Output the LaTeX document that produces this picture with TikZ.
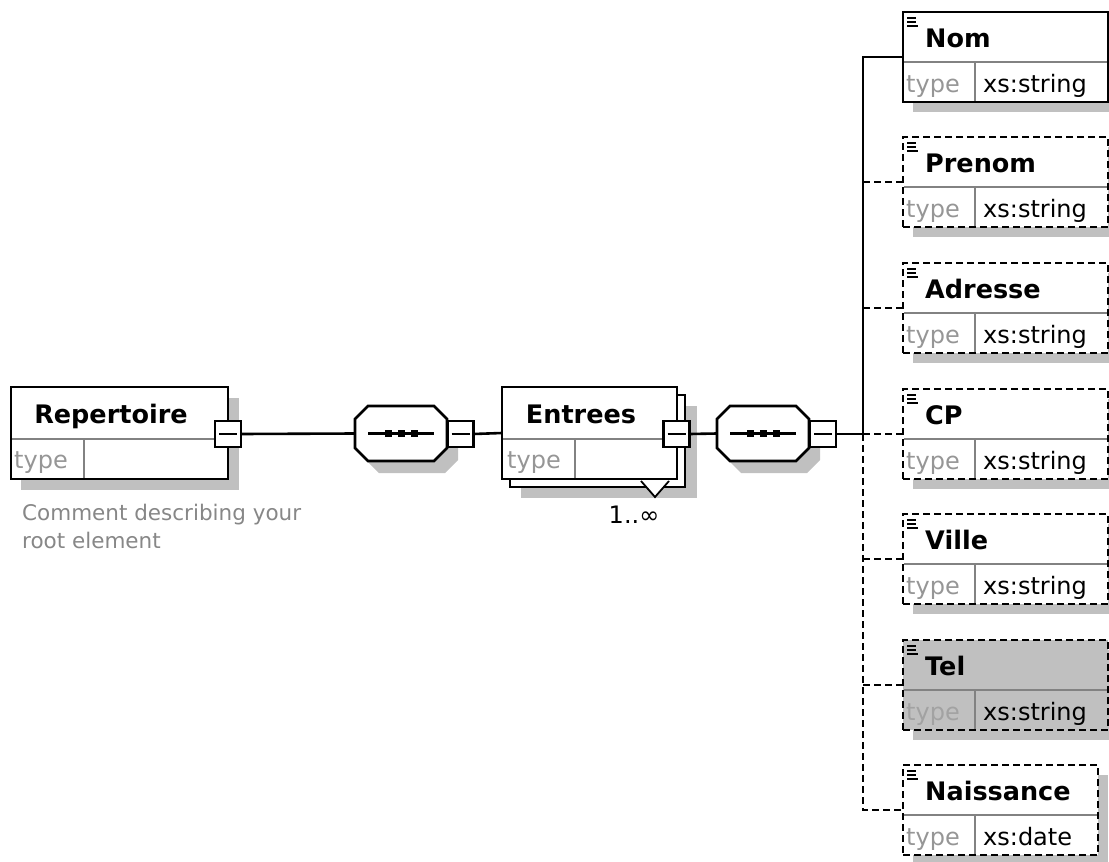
\documentclass[tikz,border=0pt]{standalone}
\usepackage{fontspec}
\setmainfont{DejaVu Sans}
\usetikzlibrary{calc}
\definecolor{shadowc}{RGB}{192,192,192}
\definecolor{typec}{RGB}{150,150,150}
\definecolor{typetel}{RGB}{162,162,162}
\definecolor{divc}{RGB}{130,130,130}
\definecolor{commc}{RGB}{135,135,135}
\tikzset{
 bx/.style={draw=black, line width=2.6pt, fill=white, inner sep=0pt, outer sep=0pt},
 dsh/.style={dash pattern=on 7pt off 4pt},
 conn/.style={line width=2.6pt, draw=black},
 hdr/.style={font=\fontsize{25.5}{30}\selectfont\bfseries, inner sep=0pt},
 typ/.style={font=\fontsize{24}{28}\selectfont, text=typec, inner sep=0pt},
 val/.style={font=\fontsize{24}{28}\selectfont, inner sep=0pt},
 comm/.style={font=\fontsize{21.5}{26}\selectfont, text=commc, inner sep=0pt},
 sq/.style={draw, line width=2.6pt, fill=white, minimum size=26pt, inner sep=0pt, outer sep=0pt,
   path picture={\draw[line width=2.6pt] ([xshift=4pt]path picture bounding box.west) -- ([xshift=-4pt]path picture bounding box.east);}},
 seqbox/.style={rectangle, draw=none, minimum width=92pt, minimum height=55pt, inner sep=0pt, outer sep=0pt},
}
\newcommand{\octpath}[2]{% node name, shift
 ([shift={(#2)}]$(#1.north west)+(13,0)$) -- ([shift={(#2)}]$(#1.north east)+(-13,0)$) --
 ([shift={(#2)}]$(#1.north east)+(0,13)$) -- ([shift={(#2)}]$(#1.south east)+(0,-13)$) --
 ([shift={(#2)}]$(#1.south east)+(-13,0)$) -- ([shift={(#2)}]$(#1.south west)+(13,0)$) --
 ([shift={(#2)}]$(#1.south west)+(0,-13)$) -- ([shift={(#2)}]$(#1.north west)+(0,13)$) -- cycle}
\newcommand{\xelem}[8]{%
 \fill[shadowc] (#2+10,#3+90) rectangle (#4+10,#3+100);
 \fill[shadowc] (#4,#3+10) rectangle (#4+10,#3+100);
 \node[bx,#7,anchor=north west,minimum width={#4-#2},minimum height=90pt] (#1) at (#2,#3) {};
 \draw[divc,line width=1.3pt] (#2+1,#3+50) -- (#4-1,#3+50);
 \draw[divc,line width=1.3pt] (#2+72,#3+50) -- (#2+72,#3+89);
 \draw[line width=1.5pt] (#2+4,#3+6) -- (#2+13,#3+6) (#2+4,#3+10) -- (#2+13,#3+10) (#2+4,#3+14) -- (#2+15,#3+14);
 \node[hdr,anchor=base west] (#1-l) at (#2+22,#3+35) {#5};
 \node[typ,text=#8,anchor=base west] (#1-t) at (#2+3,#3+80) {type};
 \node[val,anchor=base west] (#1-v) at (#2+80,#3+80) {#6};
}
\newcommand{\seqdraw}[1]{%
 \fill[shadowc] \octpath{#1}{11,12};
 \filldraw[fill=white,line width=2.6pt] \octpath{#1}{0,0};
 \draw[line width=2.6pt] ([xshift=-33pt]#1.center) -- ([xshift=33pt]#1.center);
 \foreach \dx in {-13,0,13} \fill ([shift={(\dx-3.5,-3.5)}]#1.center) rectangle ([shift={(\dx+3.5,3.5)}]#1.center);
}
\begin{document}
\begin{tikzpicture}[x=1pt,y=-1pt]
\useasboundingbox[fill=white] (0,0) rectangle (1109,862);

% ---- Repertoire
\fill[shadowc] (21,398) rectangle (239,490);
\node[bx,anchor=north west,minimum width=217pt,minimum height=92pt] (rep) at (11,387) {};
\draw[divc,line width=1.3pt] (12,439) -- (227,439);
\draw[divc,line width=1.3pt] (84,439) -- (84,478);
\node[hdr,anchor=base] (rep-l) at (111,423) {Repertoire};
\node[typ,anchor=base west] (rep-t) at (14,468) {type};
\node[sq] (repsq) at (228,434) {};
\node[comm,anchor=base west] (c1) at (22,520) {Comment describing your};
\node[comm,anchor=base west] (c2) at (22,548) {root element};

% ---- sequence 1
\node[seqbox] (seq1) at (401,433.5) {};
\seqdraw{seq1}
\node[sq] (seq1sq) at (460.5,434) {};

% ---- Entrees
\fill[shadowc] (521,406) rectangle (697,498);
\draw[line width=2.6pt,fill=white] (510,395) rectangle (685,487);
\filldraw[line width=1.8pt,fill=white] (641,481) -- (655,497) -- (669,481);
\node[bx,anchor=north west,minimum width=175pt,minimum height=92pt] (entrees) at (502,387) {};
\draw[divc,line width=1.3pt] (503,439) -- (676,439);
\draw[divc,line width=1.3pt] (575,439) -- (575,478);
\node[hdr,anchor=base] (ent-l) at (581,423) {Entrees};
\node[typ,anchor=base west] (ent-t) at (507,468) {type};
\node[sq] (entsq) at (676.5,434) {};
\node[val,anchor=base] (card) at (634,523) {1..∞};

% ---- sequence 2
\node[seqbox] (seq2) at (763,433.5) {};
\seqdraw{seq2}
\node[sq] (seq2sq) at (823,434) {};

% ---- children
\xelem{nom}{903}{12}{1108}{Nom}{xs:string}{}{typec}
\xelem{prenom}{903}{137}{1108}{Prenom}{xs:string}{dsh}{typec}
\xelem{adresse}{903}{263}{1108}{Adresse}{xs:string}{dsh}{typec}
\xelem{cp}{903}{389}{1108}{CP}{xs:string}{dsh}{typec}
\xelem{ville}{903}{514}{1108}{Ville}{xs:string}{dsh}{typec}
\xelem{tel}{903}{640}{1108}{Tel}{xs:string}{dsh,fill=shadowc}{typetel}
\xelem{naissance}{903}{765}{1098}{Naissance}{xs:date}{dsh}{typec}

% ---- connectors
\coordinate (bus) at (863,434);
\draw[conn] (repsq.east) -- (seq1.west);
\draw[conn] (seq1sq.east) -- (entrees.west);
\draw[conn] (entsq.east) -- (seq2.west);
\draw[conn] (seq2sq.east) -- (bus);
\draw[conn,dsh] (bus) |- (naissance.west);
\draw[conn,dsh] (bus) -- (cp.west);
\draw[conn,dsh] (prenom.west -| bus) -- (prenom.west);
\draw[conn,dsh] (adresse.west -| bus) -- (adresse.west);
\draw[conn,dsh] (ville.west -| bus) -- (ville.west);
\draw[conn,dsh] (tel.west -| bus) -- (tel.west);
\draw[conn] (bus) |- (nom.west);
\end{tikzpicture}
\end{document}
